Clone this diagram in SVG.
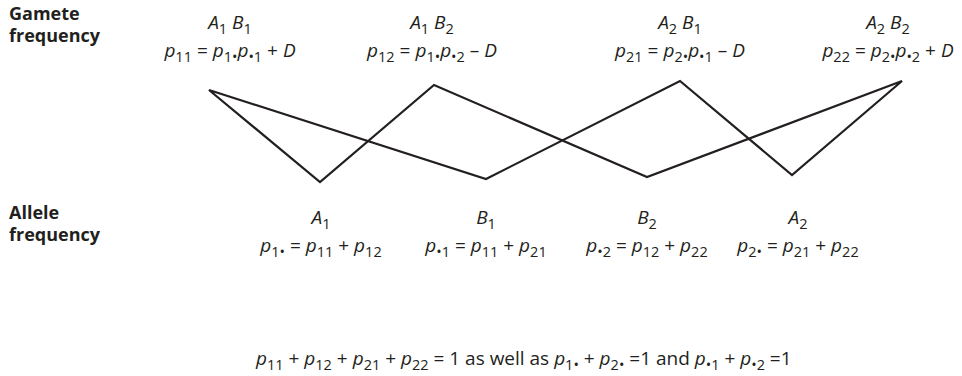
<svg xmlns="http://www.w3.org/2000/svg" width="962" height="376" viewBox="0 0 962 376">
<style>
.lbl{font-family:"Open Sans","Liberation Sans",sans-serif;font-weight:bold;font-size:18px;fill:#231f20}
.m{font-family:"Open Sans","Liberation Sans",sans-serif;font-size:19px;fill:#231f20}
.i{font-style:italic}
.s{font-size:14.5px}
.line{fill:none;stroke:#231f20;stroke-width:2.2;stroke-linejoin:miter}
</style>
<rect width="962" height="376" fill="#ffffff"/>
<g id="labels">
<text class="lbl" x="9" y="20">Gamete</text>
<text class="lbl" x="9" y="42">frequency</text>
<text class="lbl" x="9" y="219">Allele</text>
<text class="lbl" x="9" y="241">frequency</text>
</g>
<g id="connectors">
<polygon class="line" points="209,90 320,182 434,85 647,177 902,81 792,175 680,81 486,179"/>
</g>
<g id="node-A1B1">
<text class="m" x="230" y="29" text-anchor="middle"><tspan class="i">A</tspan><tspan class="s" dy="5">1</tspan><tspan class="i" dy="-5"> B</tspan><tspan class="s" dy="5">1</tspan></text>
<text class="m" x="230" y="57" text-anchor="middle"><tspan class="i">p</tspan><tspan class="s" dy="5">11</tspan><tspan dy="-5"> = </tspan><tspan class="i">p</tspan><tspan class="s" dy="5">1•</tspan><tspan class="i" dy="-5">p</tspan><tspan class="s" dy="5">•1</tspan><tspan dy="-5"> + </tspan><tspan class="i">D</tspan></text>
</g>
<g id="node-A1B2">
<text class="m" x="432" y="29" text-anchor="middle"><tspan class="i">A</tspan><tspan class="s" dy="5">1</tspan><tspan class="i" dy="-5"> B</tspan><tspan class="s" dy="5">2</tspan></text>
<text class="m" x="432" y="57" text-anchor="middle"><tspan class="i">p</tspan><tspan class="s" dy="5">12</tspan><tspan dy="-5"> = </tspan><tspan class="i">p</tspan><tspan class="s" dy="5">1•</tspan><tspan class="i" dy="-5">p</tspan><tspan class="s" dy="5">•2</tspan><tspan dy="-5"> – </tspan><tspan class="i">D</tspan></text>
</g>
<g id="node-A2B1">
<text class="m" x="680" y="29" text-anchor="middle"><tspan class="i">A</tspan><tspan class="s" dy="5">2</tspan><tspan class="i" dy="-5"> B</tspan><tspan class="s" dy="5">1</tspan></text>
<text class="m" x="680" y="57" text-anchor="middle"><tspan class="i">p</tspan><tspan class="s" dy="5">21</tspan><tspan dy="-5"> = </tspan><tspan class="i">p</tspan><tspan class="s" dy="5">2•</tspan><tspan class="i" dy="-5">p</tspan><tspan class="s" dy="5">•1</tspan><tspan dy="-5"> – </tspan><tspan class="i">D</tspan></text>
</g>
<g id="node-A2B2">
<text class="m" x="888" y="29" text-anchor="middle"><tspan class="i">A</tspan><tspan class="s" dy="5">2</tspan><tspan class="i" dy="-5"> B</tspan><tspan class="s" dy="5">2</tspan></text>
<text class="m" x="888" y="57" text-anchor="middle"><tspan class="i">p</tspan><tspan class="s" dy="5">22</tspan><tspan dy="-5"> = </tspan><tspan class="i">p</tspan><tspan class="s" dy="5">2•</tspan><tspan class="i" dy="-5">p</tspan><tspan class="s" dy="5">•2</tspan><tspan dy="-5"> + </tspan><tspan class="i">D</tspan></text>
</g>
<g id="node-A1">
<text class="m" x="321" y="224" text-anchor="middle"><tspan class="i">A</tspan><tspan class="s" dy="5">1</tspan></text>
<text class="m" x="321" y="252" text-anchor="middle"><tspan class="i">p</tspan><tspan class="s" dy="5">1•</tspan><tspan dy="-5"> = </tspan><tspan class="i">p</tspan><tspan class="s" dy="5">11</tspan><tspan dy="-5"> + </tspan><tspan class="i">p</tspan><tspan class="s" dy="5">12</tspan></text>
</g>
<g id="node-B1">
<text class="m" x="486" y="224" text-anchor="middle"><tspan class="i">B</tspan><tspan class="s" dy="5">1</tspan></text>
<text class="m" x="486" y="252" text-anchor="middle"><tspan class="i">p</tspan><tspan class="s" dy="5">•1</tspan><tspan dy="-5"> = </tspan><tspan class="i">p</tspan><tspan class="s" dy="5">11</tspan><tspan dy="-5"> + </tspan><tspan class="i">p</tspan><tspan class="s" dy="5">21</tspan></text>
</g>
<g id="node-B2">
<text class="m" x="647" y="224" text-anchor="middle"><tspan class="i">B</tspan><tspan class="s" dy="5">2</tspan></text>
<text class="m" x="647" y="252" text-anchor="middle"><tspan class="i">p</tspan><tspan class="s" dy="5">•2</tspan><tspan dy="-5"> = </tspan><tspan class="i">p</tspan><tspan class="s" dy="5">12</tspan><tspan dy="-5"> + </tspan><tspan class="i">p</tspan><tspan class="s" dy="5">22</tspan></text>
</g>
<g id="node-A2">
<text class="m" x="798" y="224" text-anchor="middle"><tspan class="i">A</tspan><tspan class="s" dy="5">2</tspan></text>
<text class="m" x="798" y="252" text-anchor="middle"><tspan class="i">p</tspan><tspan class="s" dy="5">2•</tspan><tspan dy="-5"> = </tspan><tspan class="i">p</tspan><tspan class="s" dy="5">21</tspan><tspan dy="-5"> + </tspan><tspan class="i">p</tspan><tspan class="s" dy="5">22</tspan></text>
</g>
<g id="footer">
<text class="m" x="256" y="365"><tspan class="i">p</tspan><tspan class="s" dy="5">11</tspan><tspan dy="-5"> + </tspan><tspan class="i">p</tspan><tspan class="s" dy="5">12</tspan><tspan dy="-5"> + </tspan><tspan class="i">p</tspan><tspan class="s" dy="5">21</tspan><tspan dy="-5"> + </tspan><tspan class="i">p</tspan><tspan class="s" dy="5">22</tspan><tspan dy="-5"> = 1 as well as </tspan><tspan class="i">p</tspan><tspan class="s" dy="5">1•</tspan><tspan dy="-5"> + </tspan><tspan class="i">p</tspan><tspan class="s" dy="5">2•</tspan><tspan dy="-5"> =1 and </tspan><tspan class="i">p</tspan><tspan class="s" dy="5">•1</tspan><tspan dy="-5"> + </tspan><tspan class="i">p</tspan><tspan class="s" dy="5">•2</tspan><tspan dy="-5"> =1</tspan></text>
</g>
</svg>
